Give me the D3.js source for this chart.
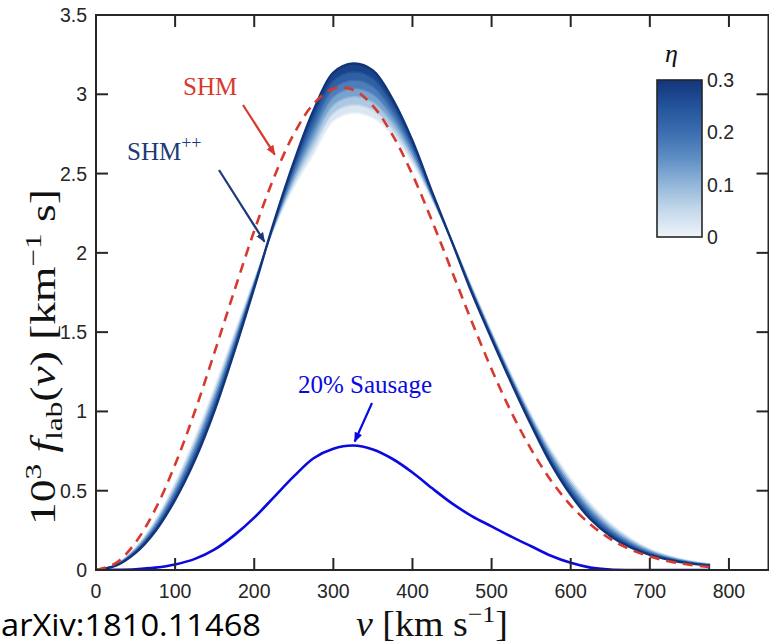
<!DOCTYPE html>
<html><head><meta charset="utf-8">
<script src="https://cdn.jsdelivr.net/npm/d3@7"></script>
<style>body{margin:0;background:#fff}svg{display:block}</style>
</head><body>
<svg id="c" width="769" height="644"></svg>
<script>
// ---------------- data ----------------
const velocity = [0,25,50,75,100,125,150,175,200,225,250,275,300,325,350,375,400,425,450,475,500,525,550,575,600,625,650,675,700,725,750,775];
// SHM (red dashed), units 1e-3 (km/s)^-1
const shm = [0,0.043,0.174,0.384,0.665,1.001,1.376,1.763,2.139,2.476,2.749,2.940,3.035,3.029,2.927,2.741,2.493,2.198,1.882,1.566,1.266,0.995,0.761,0.565,0.408,0.287,0.196,0.130,0.085,0.054,0.033,0.019];
// 20% Sausage component (blue solid)
const sausage20 = [0,0.001,0.005,0.015,0.035,0.07,0.13,0.22,0.33,0.46,0.59,0.705,0.765,0.785,0.76,0.70,0.615,0.515,0.42,0.34,0.275,0.21,0.15,0.09,0.045,0.015,0.003,0,0,0,0,0];
// SHM++ family, one curve per eta value
const etaValues = [0,0.05,0.10,0.15,0.20,0.25,0.30];
const shmpp_eta00 = [0,0.036,0.144,0.318,0.556,0.840,1.160,1.500,1.834,2.150,2.410,2.620,2.830,2.880,2.850,2.740,2.560,2.330,2.075,1.790,1.505,1.235,0.985,0.765,0.580,0.425,0.300,0.205,0.135,0.090,0.060,0.040];
const shmpp_eta05 = [0,0.034,0.138,0.306,0.537,0.816,1.135,1.480,1.825,2.158,2.437,2.667,2.881,2.932,2.900,2.778,2.585,2.339,2.074,1.783,1.497,1.226,0.973,0.749,0.562,0.408,0.286,0.195,0.128,0.086,0.057,0.038];
const shmpp_eta10 = [0,0.033,0.132,0.294,0.518,0.791,1.109,1.460,1.816,2.165,2.464,2.713,2.932,2.985,2.950,2.816,2.609,2.347,2.073,1.776,1.490,1.217,0.962,0.734,0.545,0.390,0.272,0.185,0.122,0.081,0.054,0.036];
const shmpp_eta15 = [0,0.031,0.126,0.282,0.499,0.767,1.084,1.440,1.806,2.173,2.491,2.760,2.983,3.037,3.000,2.854,2.634,2.356,2.071,1.769,1.482,1.207,0.950,0.718,0.527,0.373,0.257,0.174,0.115,0.077,0.051,0.034];
const shmpp_eta20 = [0,0.030,0.120,0.269,0.480,0.742,1.058,1.420,1.797,2.180,2.518,2.806,3.034,3.089,3.050,2.892,2.658,2.364,2.070,1.762,1.474,1.198,0.938,0.702,0.509,0.355,0.243,0.164,0.108,0.072,0.048,0.032];
const shmpp_eta25 = [0,0.028,0.114,0.257,0.461,0.718,1.033,1.400,1.788,2.188,2.545,2.853,3.085,3.141,3.100,2.930,2.683,2.373,2.069,1.755,1.466,1.189,0.926,0.686,0.491,0.338,0.229,0.154,0.101,0.068,0.045,0.030];
const shmpp_eta30 = [0,0.027,0.108,0.245,0.442,0.693,1.007,1.380,1.779,2.195,2.572,2.899,3.136,3.194,3.150,2.968,2.707,2.381,2.068,1.748,1.459,1.180,0.915,0.671,0.474,0.320,0.215,0.144,0.095,0.063,0.042,0.028];
const shmppCurves = [shmpp_eta00,shmpp_eta05,shmpp_eta10,shmpp_eta15,shmpp_eta20,shmpp_eta25,shmpp_eta30];

const xTicks = [0,100,200,300,400,500,600,700,800];
const yTicks = [0,0.5,1,1.5,2,2.5,3,3.5];
const cbTicks = [0,0.1,0.2,0.3];
const cbTickLabels = ["0","0.1","0.2","0.3"];
const cmapStops = ["#eef4fa","#c6d9eb","#93b6d9","#5f8fc5","#3c6daf","#23539a","#12357a"];

// ---------------- drawing ----------------
const svg = d3.select("#c");
const x = d3.scaleLinear().domain([0,850]).range([96,768.5]);
const y = d3.scaleLinear().domain([0,3.5]).range([570,15]);
const cmap = d3.scaleLinear().domain(d3.range(cmapStops.length).map(i=>0.3*i/(cmapStops.length-1))).range(cmapStops).interpolate(d3.interpolateRgb);

const serif = "'Liberation Serif','Times New Roman',serif";
const sans = "'Liberation Sans',Arial,sans-serif";
const axisCol = "#262626";

const defs = svg.append("defs");
defs.append("clipPath").attr("id","plotclip").append("rect")
  .attr("x",96).attr("y",15).attr("width",672.5).attr("height",555);
function marker(id,col){
  defs.append("marker").attr("id",id).attr("viewBox","0 0 10 10").attr("refX",9).attr("refY",5)
    .attr("markerWidth",10).attr("markerHeight",10).attr("markerUnits","userSpaceOnUse").attr("orient","auto")
    .append("path").attr("d","M0,1 L10,5 L0,9 Z").attr("fill",col);
}
marker("arRed","#d63a2e"); marker("arNavy","#1c3a78"); marker("arBlue","#0a0ae0");

const plot = svg.append("g").attr("clip-path","url(#plotclip)");
const idx = velocity.map((d,i)=>i);
const crv = d3.curveCatmullRom.alpha(0.5);
const lineOf = arr => d3.line().x(i=>x(velocity[i])).y(i=>y(arr[i])).curve(crv)(idx);

// SHM++ band
for(let k=0;k<shmppCurves.length-1;k++){
  const a=shmppCurves[k], b=shmppCurves[k+1];
  const area = d3.area().x(i=>x(velocity[i])).y0(i=>y(a[i])).y1(i=>y(b[i])).curve(crv);
  const col = cmap((etaValues[k]+etaValues[k+1])/2);
  plot.append("path").attr("d",area(idx)).attr("fill",col).attr("stroke",col).attr("stroke-width",0.8);
}
shmppCurves.forEach((arr,k)=>{
  plot.append("path").attr("d",lineOf(arr)).attr("fill","none")
    .attr("stroke",cmap(etaValues[k])).attr("stroke-width",k===shmppCurves.length-1?2.4:1.4);
});
// band right edge
plot.append("line").attr("x1",x(velocity[velocity.length-1])).attr("x2",x(velocity[velocity.length-1]))
  .attr("y1",y(shmpp_eta00[shmpp_eta00.length-1])).attr("y2",y(0)).attr("stroke","#15387d").attr("stroke-width",2);

// Sausage
plot.append("path").attr("d",lineOf(sausage20)).attr("fill","none").attr("stroke","#0a0ae0").attr("stroke-width",2.6);
// SHM dashed
plot.append("path").attr("d",lineOf(shm)).attr("fill","none").attr("stroke","#d63a2e")
  .attr("stroke-width",2.6).attr("stroke-dasharray","10,7");

// axes box & ticks
const ax = svg.append("g");
ax.append("rect").attr("x",96).attr("y",15).attr("width",672.5).attr("height",555)
  .attr("fill","none").attr("stroke",axisCol).attr("stroke-width",2);
const tl = 12;
xTicks.forEach(t=>{
  ax.append("line").attr("x1",x(t)).attr("x2",x(t)).attr("y1",570).attr("y2",570-tl).attr("stroke",axisCol).attr("stroke-width",2);
  ax.append("line").attr("x1",x(t)).attr("x2",x(t)).attr("y1",15).attr("y2",15+tl).attr("stroke",axisCol).attr("stroke-width",2);
  ax.append("text").attr("x",x(t)).attr("y",598).attr("text-anchor","middle").attr("font-family",sans)
    .attr("font-size",19.5).attr("fill",axisCol).text(t);
});
yTicks.forEach(t=>{
  ax.append("line").attr("x1",96).attr("x2",96+tl).attr("y1",y(t)).attr("y2",y(t)).attr("stroke",axisCol).attr("stroke-width",2);
  ax.append("line").attr("x1",768.5).attr("x2",768.5-tl).attr("y1",y(t)).attr("y2",y(t)).attr("stroke",axisCol).attr("stroke-width",2);
  ax.append("text").attr("x",87).attr("y",y(t)+7).attr("text-anchor","end").attr("font-family",sans)
    .attr("font-size",19.5).attr("fill",axisCol).text(t);
});

// axis labels
const yl = svg.append("text").attr("transform","translate(55,357) rotate(-90)").attr("text-anchor","middle")
  .attr("font-family",serif).attr("font-size",35).attr("fill","#111")
  .attr("textLength",336).attr("lengthAdjust","spacingAndGlyphs");
yl.append("tspan").text("10");
yl.append("tspan").attr("dy",-14).attr("font-size",24).text("3");
yl.append("tspan").attr("dy",14).attr("font-style","italic").text(" f");
yl.append("tspan").attr("dy",7).attr("font-size",24).text("lab");
yl.append("tspan").attr("dy",-7).text("(");
yl.append("tspan").attr("font-style","italic").text("v");
yl.append("tspan").text(")  [km");
yl.append("tspan").attr("dy",-14).attr("font-size",24).text("\u22121");
yl.append("tspan").attr("dy",14).text(" s]");

const xl = svg.append("text").attr("x",432).attr("y",636).attr("text-anchor","middle")
  .attr("font-family",serif).attr("font-size",35).attr("fill","#111")
  .attr("textLength",152).attr("lengthAdjust","spacingAndGlyphs");
xl.append("tspan").attr("font-style","italic").text("v");
xl.append("tspan").text("  [km s");
xl.append("tspan").attr("dy",-14).attr("font-size",24).text("\u22121");
xl.append("tspan").attr("dy",14).text("]");

svg.append("text").attr("x",1).attr("y",636).attr("font-family","'Open Sans',sans-serif")
  .attr("font-size",31).attr("textLength",260).attr("lengthAdjust","spacingAndGlyphs")
  .attr("fill","#000").text("arXiv:1810.11468");

// annotations
svg.append("text").attr("x",183).attr("y",95).attr("font-family",serif).attr("font-size",25).attr("fill","#d63a2e").text("SHM");
svg.append("line").attr("x1",243).attr("y1",105).attr("x2",x(226)).attr("y2",y(2.62))
  .attr("stroke","#d63a2e").attr("stroke-width",2.2).attr("marker-end","url(#arRed)");
const pp = svg.append("text").attr("x",127).attr("y",160).attr("font-family",serif).attr("font-size",25).attr("fill","#1c3a78");
pp.append("tspan").text("SHM");
pp.append("tspan").attr("dy",-11).attr("font-size",18).text("++");
svg.append("line").attr("x1",219).attr("y1",170).attr("x2",x(213)).attr("y2",y(2.07))
  .attr("stroke","#1c3a78").attr("stroke-width",2.2).attr("marker-end","url(#arNavy)");
svg.append("text").attr("x",298).attr("y",393).attr("font-family",serif).attr("font-size",25).attr("fill","#0a0ae0").text("20% Sausage");
svg.append("line").attr("x1",372).attr("y1",403).attr("x2",x(327)).attr("y2",y(0.81))
  .attr("stroke","#0a0ae0").attr("stroke-width",2.2).attr("marker-end","url(#arBlue)");

// colorbar
const cb = d3.scaleLinear().domain([0,0.3]).range([237,80]);
const grad = defs.append("linearGradient").attr("id","cbgrad").attr("x1",0).attr("y1",1).attr("x2",0).attr("y2",0);
cmapStops.forEach((c,i)=>grad.append("stop").attr("offset",i/(cmapStops.length-1)).attr("stop-color",c));
svg.append("rect").attr("x",657).attr("y",cb(0.3)).attr("width",45).attr("height",cb(0)-cb(0.3))
  .attr("fill","url(#cbgrad)").attr("stroke",axisCol).attr("stroke-width",1.6);
cbTicks.forEach((t,i)=>{
  svg.append("text").attr("x",707).attr("y",cb(t)+7).attr("font-family",sans).attr("font-size",19.5)
    .attr("fill",axisCol).text(cbTickLabels[i]);
});
svg.append("text").attr("x",665).attr("y",62).attr("font-family",serif).attr("font-style","italic")
  .attr("font-size",26).attr("fill","#111").text("\u03B7");
</script>
</body></html>
